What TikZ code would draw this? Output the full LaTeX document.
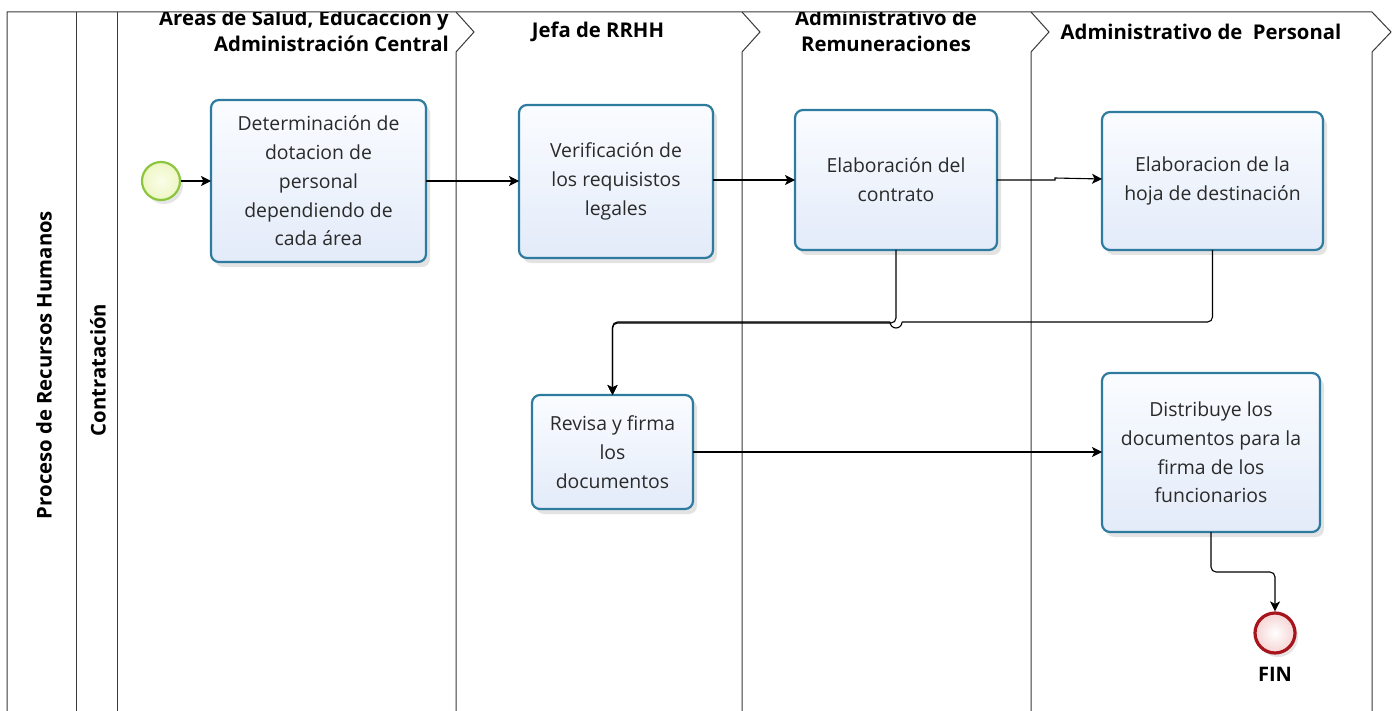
\documentclass[tikz,border=0pt]{standalone}
\usepackage{fontspec}
\setmainfont{Open Sans}
\usetikzlibrary{arrows.meta,shadows}
\definecolor{laneline}{HTML}{3A3A3A}
\definecolor{taskborder}{HTML}{2E7BA0}
\definecolor{tasktop}{HTML}{FAFCFF}
\definecolor{taskbot}{HTML}{E3EBF9}
\definecolor{startborder}{HTML}{8CC63F}
\definecolor{startin}{HTML}{FAFDE8}
\definecolor{startout}{HTML}{EEF6C4}
\definecolor{endborder}{HTML}{A8141C}
\definecolor{endfill}{HTML}{F6D3D3}
\definecolor{txt}{HTML}{2A2A2A}
\tikzset{
  lane/.style={draw=laneline, line width=1pt},
  task/.style={rectangle, rounded corners=8pt, draw=taskborder, line width=2.2pt,
    top color=tasktop, bottom color=taskbot, inner sep=0pt, outer sep=0pt,
    align=center, text=txt, font=\fontsize{19.4}{28.7}\selectfont,
    drop shadow={opacity=0.22, shadow xshift=4pt, shadow yshift=-5pt}},
  hdr/.style={font=\bfseries\fontsize{20.3}{26}\selectfont, text=black, inner sep=0pt},
  arr/.style={draw=black, line width=1.1pt, -{Stealth[length=10pt,width=10pt,inset=2.5pt]}},
  conn/.style={draw=black, line width=1.1pt},
}
\begin{document}
\begin{tikzpicture}[x=1pt,y=-1pt]
\useasboundingbox[fill=white] (0,0) rectangle (1399,711);
% pool and lanes
\draw[lane] (7,711) -- (7,12) -- (1372,12) -- (1391,32) -- (1372,52) -- (1372,711);
\draw[lane] (76,12) -- (76,711);
\draw[lane] (117,12) -- (117,711);
\foreach \lx in {456,742,1031}{
  \draw[lane] (\lx,12) -- (\lx+18,32) -- (\lx,52) -- (\lx,711);
}
% pool labels
\node[hdr, rotate=90] (pool) at (44,365) {Proceso de Recursos Humanos};
\node[hdr, rotate=90] (lanelab) at (98,370) {Contratación};
% lane headers (clipped at the top line)
\begin{scope}
\clip (117,12.5) rectangle (1399,100);
\node[hdr, anchor=east, align=right] (h1) at (449,31) {Areas de Salud, Educaccion y\\Administración Central};
\node[hdr] (h2) at (598,32) {Jefa de RRHH};
\node[hdr, align=center] (h3) at (886,31) {Administrativo de\\Remuneraciones};
\node[hdr] (h4) at (1201,32) {Administrativo de\ \ Personal};
\end{scope}
% events
\node[circle, draw=startborder, line width=2.2pt, inner color=startin, outer color=startout, minimum size=38pt, inner sep=0pt,
  drop shadow={opacity=0.2, shadow xshift=3pt, shadow yshift=-4pt}] (start) at (161,181) {};
\node[circle, draw=endborder, line width=3.2pt, inner color=white, outer color=endfill, minimum size=40pt, inner sep=0pt,
  drop shadow={opacity=0.2, shadow xshift=3pt, shadow yshift=-4pt}] (fin) at (1275,633) {};
\node[font=\bfseries\fontsize{20}{22}\selectfont, inner sep=0pt] (finlab) at (1275,674) {FIN};
% tasks
\node[task, minimum width=215pt, minimum height=162pt] (t1) at (318.5,181)
  {Determinación de\\dotacion de\\personal\\dependiendo de\\cada área};
\node[task, minimum width=194pt, minimum height=153pt] (t2) at (616,181.5)
  {Verificación de\\los requisistos\\legales};
\node[task, minimum width=202pt, minimum height=140pt] (t3) at (896,180)
  {Elaboración del\\contrato};
\node[task, minimum width=221pt, minimum height=138pt] (t4) at (1212.5,181)
  {Elaboracion de la\\hoja de destinación};
\node[task, minimum width=161pt, minimum height=114pt] (t5) at (612.5,452)
  {Revisa y firma\\los\\documentos};
\node[task, minimum width=218pt, minimum height=159pt] (t6) at (1211,452.5)
  {Distribuye los\\documentos para la\\firma de los\\funcionarios};
% connectors
\coordinate (hopR) at (902,322);
\coordinate (hopL) at (890,322);
\draw[arr] (start) -- (t1.west |- start);
\draw[arr] (t1.east) -- (t1.east -| t2.west);
\draw[arr] (t2.east |- t3.west) -- (t3.west);
\draw[arr] (t3.east) -- ++(58,0) -- ++(0,-2) -- (t4.west |- 0,179);
\draw[arr, rounded corners=5pt] (t3.south) -- (t3.south |- 0,323) -- (t5.north |- 0,323) -- (t5.north);
\draw[conn, rounded corners=5pt] (t4.south) -- (t4.south |- hopR) -- (hopR);
\draw[conn] (hopR) arc (0:180:6);
\draw[arr, rounded corners=5pt] (hopL) -- (t5.north |- hopL) -- (t5.north);
\draw[arr] (t5.east) -- (t5.east -| t6.west);
\draw[arr, rounded corners=5pt] (t6.south) -- (t6.south |- 0,572) -- (fin.north |- 0,572) -- (fin.north);
\end{tikzpicture}
\end{document}
